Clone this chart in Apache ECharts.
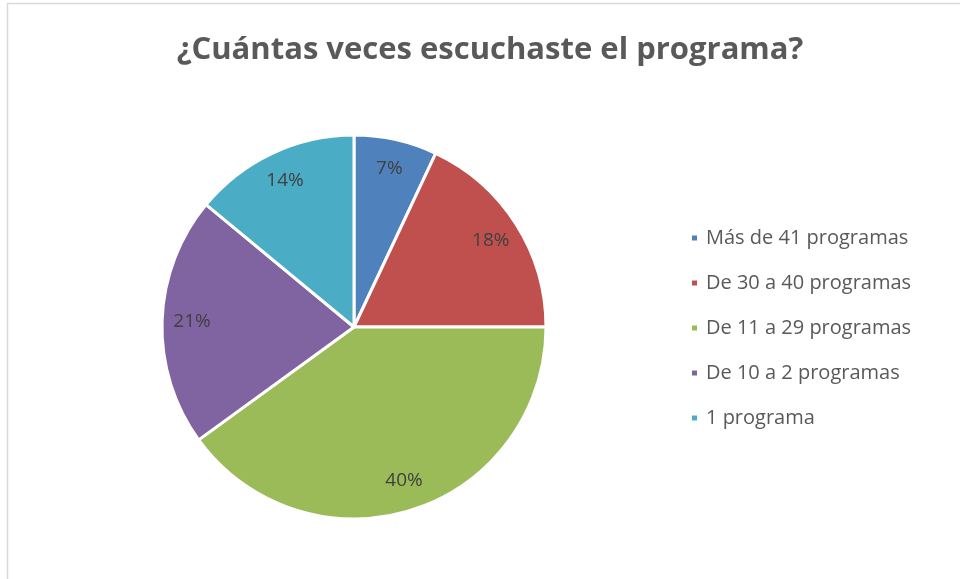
<!DOCTYPE html>
<html><head><meta charset="utf-8">
<script src="https://cdn.jsdelivr.net/npm/echarts@6/dist/echarts.min.js"></script>
<style>html,body{margin:0;padding:0;background:#fff;}#c{width:960px;height:579px;}</style>
</head><body><div id="c"></div>
<script>
const categories = ['Más de 41 programas', 'De 30 a 40 programas', 'De 11 a 29 programas', 'De 10 a 2 programas', '1 programa'];
const values = [7, 18, 40, 21, 14];
const colors = ['#4F81BD', '#C0504D', '#9BBB59', '#8064A2', '#4BACC6'];
const titleText = '¿Cuántas veces escuchaste el programa?';

const chart = echarts.init(document.getElementById('c'));
const FONT = 'Open Sans';
chart.setOption({
  animation: false,
  backgroundColor: '#fff',
  graphic: [{
    type: 'rect', shape: {x: 7.5, y: 3.5, width: 1000, height: 700},
    style: {fill: 'none', stroke: '#d9d9d9', lineWidth: 1.5}, silent: true
  }],
  title: {
    text: titleText, left: 485, top: 30, textAlign: 'center',
    textStyle: {fontFamily: FONT, fontWeight: 'bold', fontSize: 31, color: '#595959'}
  },
  legend: {
    orient: 'vertical', left: 685, top: 223, itemGap: 25,
    itemWidth: 7, itemHeight: 7, icon: 'rect',
    textStyle: {fontFamily: FONT, fontSize: 20, color: '#595959', padding: [0,0,0,3]},
    data: categories.map((n, i) => ({name: n, itemStyle: {color: colors[i]}}))
  },
  series: [{
    type: 'pie', center: [354, 327], radius: [0, 192], startAngle: 90, clockwise: true,
    label: {show: false}, labelLine: {show: false}, silent: true,
    itemStyle: {borderColor: '#fff', borderWidth: 3},
    data: categories.map((n, i) => ({name: n, value: values[i], itemStyle: {color: colors[i]}}))
  }, {
    type: 'pie', center: [354, 327], radius: [126, 192], startAngle: 90, clockwise: true,
    silent: true, labelLine: {show: false},
    itemStyle: {color: 'rgba(0,0,0,0)', borderWidth: 0},
    label: {show: true, position: 'inside', formatter: '{d}%', fontFamily: FONT, fontSize: 19, color: '#404040'},
    data: categories.map((n, i) => ({name: n, value: values[i]}))
  }]
});
</script></body></html>
